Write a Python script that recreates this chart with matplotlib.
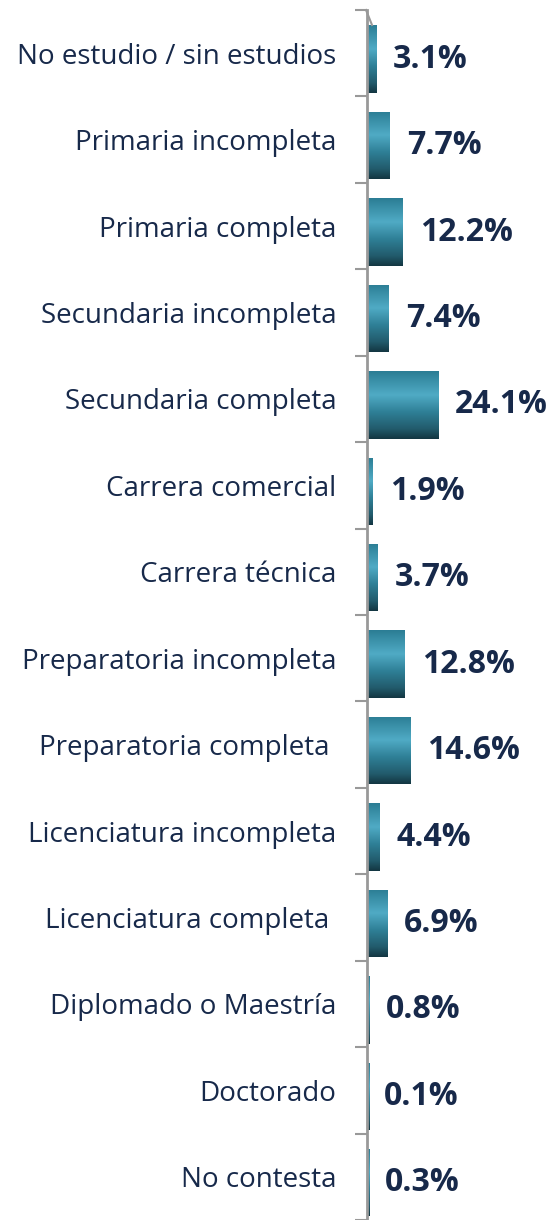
import matplotlib.pyplot as plt
import numpy as np
from matplotlib.colors import LinearSegmentedColormap
from matplotlib.lines import Line2D

categories = ['No estudio / sin estudios', 'Primaria incompleta', 'Primaria completa',
              'Secundaria incompleta', 'Secundaria completa', 'Carrera comercial',
              'Carrera técnica', 'Preparatoria incompleta', 'Preparatoria completa ',
              'Licenciatura incompleta', 'Licenciatura completa ', 'Diplomado o Maestría',
              'Doctorado', 'No contesta']
values = [3.1, 7.7, 12.2, 7.4, 24.1, 1.9, 3.7, 12.8, 14.6, 4.4, 6.9, 0.8, 0.1, 0.3]
value_labels = ['3.1%', '7.7%', '12.2%', '7.4%', '24.1%', '1.9%', '3.7%', '12.8%',
                '14.6%', '4.4%', '6.9%', '0.8%', '0.1%', '0.3%']

W, H = 551, 1220
fig = plt.figure(figsize=(W / 100, H / 100), dpi=100)

# axes placed in pixel terms
x0 = 367
top_px, bot_px = 10, 1220
ax = fig.add_axes([x0 / W, 0, 1 - x0 / W, (bot_px - top_px) / H])
px_per_unit = 2.95
ax.set_xlim(0, (W - x0) / px_per_unit)
c0, step = 53.4, 86.8
ax.set_ylim((bot_px - c0) / step, (top_px - c0) / step)

cmap = LinearSegmentedColormap.from_list('cyl', [
    (0.0, '#2b7d94'), (0.35, '#50abc5'), (0.6, '#2f8097'),
    (0.85, '#225b6c'), (1.0, '#133641')])
grad = np.linspace(0, 1, 256).reshape(-1, 1)

bar_h = 0.78
shift = 6 / step  # bars sit a bit low in each slot (3d look)
y = np.arange(len(values))
shown = [max(v, 0.9) for v in values]  # thinnest bars still show a sliver
bars = ax.barh(y + shift, shown, height=bar_h, color='none', edgecolor='none')
for b, v, lab in zip(bars, values, value_labels):
    yb = b.get_y()
    w = b.get_width()
    im = ax.imshow(grad, cmap=cmap, aspect='auto', extent=(0, w, yb + bar_h, yb),
                   interpolation='bicubic', zorder=2)
    im.set_clip_path(b)
    ax.text(v + 17 / px_per_unit, yb + bar_h / 2, lab, va='center', ha='left',
            fontsize=23, fontweight='bold', color='#17294a', family='Open Sans')

ax.set_yticks(np.arange(len(values) + 1) - 0.5)
ax.set_yticklabels([])
ax.set_yticks(y, minor=True)
ax.set_yticklabels(categories, minor=True, fontsize=20, color='#17294a', family='Open Sans')
ax.tick_params(axis='y', which='major', length=9, width=1.5, color='#999999', direction='out')
ax.tick_params(axis='y', which='minor', length=0, pad=22)
ax.set_xticks([])
for s in ['top', 'right', 'bottom']:
    ax.spines[s].set_visible(False)
ax.spines['left'].set_color('#999999')
ax.spines['left'].set_linewidth(2)
ax.set_facecolor('none')

# little perspective edge at the top of the axis
fig.add_artist(Line2D([366 / W, 372 / W], [1 - 10 / H, 1 - 25 / H], color='#999999', lw=1.5))

fig.savefig('out.png', dpi=100)
